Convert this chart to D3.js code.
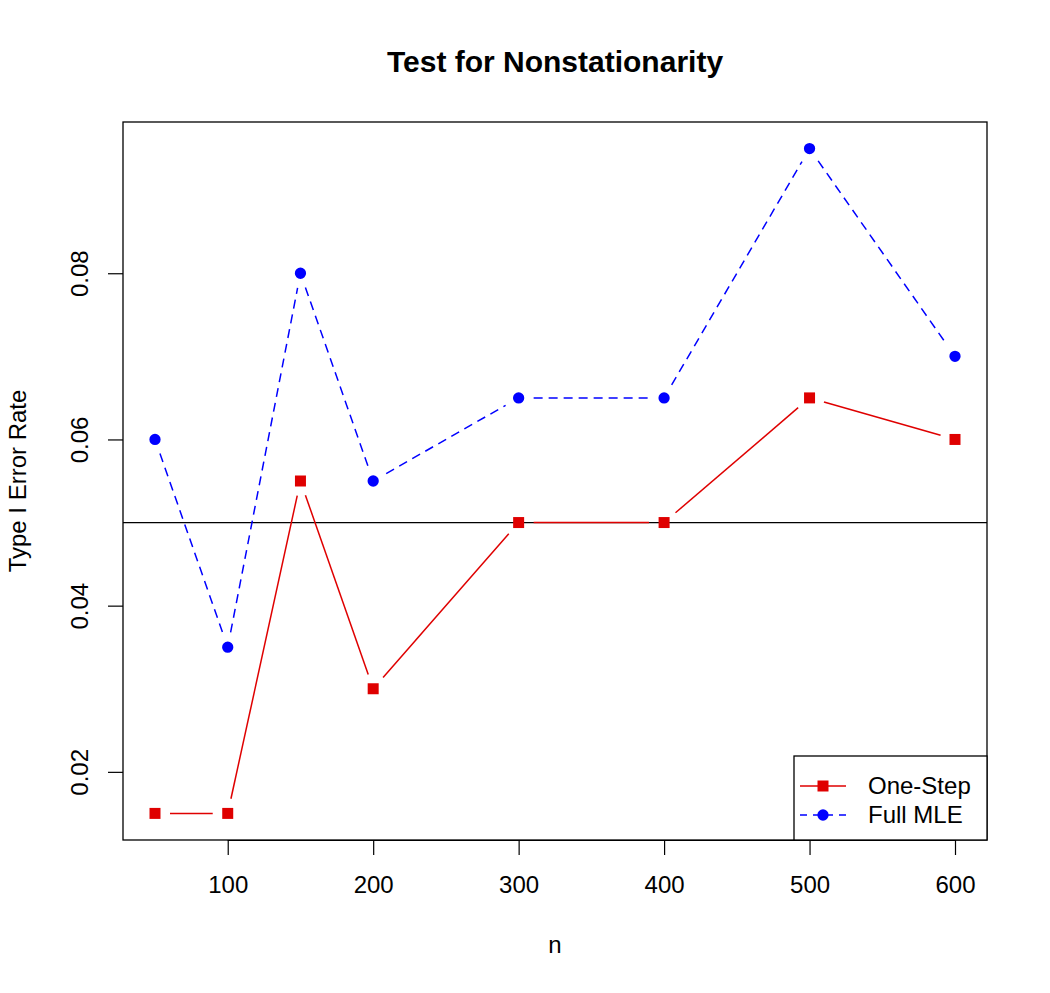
<!DOCTYPE html>
<html>
<head>
<meta charset="utf-8">
<script src="https://cdn.jsdelivr.net/npm/d3@7"></script>
<style>
  body { margin: 0; background: #fff; }
  svg text { font-family: "Liberation Sans", Arial, sans-serif; fill: #000; }
</style>
</head>
<body>
<div id="chart"></div>
<script>
// data
const nValues = [50, 100, 150, 200, 300, 400, 500, 600];
const oneStep = [0.015, 0.015, 0.055, 0.03, 0.05, 0.05, 0.065, 0.06];
const fullMLE = [0.06, 0.035, 0.08, 0.055, 0.065, 0.065, 0.095, 0.07];
const xTicks = [100, 200, 300, 400, 500, 600];
const yTicks = [0.02, 0.04, 0.06, 0.08];
const refLine = 0.05;
const seriesNames = ['One-Step', 'Full MLE'];

const width = 1050, height = 993;
const plot = { left: 123, right: 987, top: 122, bottom: 840 };
const red = '#df0000', blue = '#0000ff';
const font = '"Liberation Sans", Arial, sans-serif';

const svg = d3.select('#chart').append('svg')
  .attr('width', width)
  .attr('height', height);

// R style 4% padding on both axes
const pad = (lo, hi) => { const r = (hi - lo) * 0.04; return [lo - r, hi + r]; };
const allY = oneStep.concat(fullMLE);

const x = d3.scaleLinear()
  .domain(pad(d3.min(nValues), d3.max(nValues)))
  .range([plot.left, plot.right]);
const y = d3.scaleLinear()
  .domain(pad(d3.min(allY), d3.max(allY)))
  .range([plot.bottom, plot.top]);

// title
svg.append('text')
  .attr('x', (plot.left + plot.right) / 2)
  .attr('y', 72)
  .attr('text-anchor', 'middle')
  .style('font-size', '30px')
  .style('font-weight', 'bold')
  .text('Test for Nonstationarity');

// axes
const xAxis = svg.append('g')
  .attr('transform', `translate(0,${plot.bottom})`)
  .call(d3.axisBottom(x).tickValues(xTicks).tickSize(15).tickPadding(21).tickFormat(d3.format('d')));
xAxis.select('.domain').attr('d', `M${x(xTicks[0])},0.5H${x(xTicks[xTicks.length - 1])}`);

const yAxis = svg.append('g')
  .attr('transform', `translate(${plot.left},0)`)
  .call(d3.axisLeft(y).tickValues(yTicks).tickSize(15).tickFormat(d3.format('.2f')));
yAxis.select('.domain').remove();
yAxis.selectAll('.tick text')
  .attr('x', 0).attr('dy', 0)
  .attr('transform', 'translate(-35,0) rotate(-90)')
  .attr('text-anchor', 'middle');

[xAxis, yAxis].forEach(g => {
  g.selectAll('text').style('font-size', '24px').style('font-family', font);
  g.selectAll('line, path').attr('stroke', '#000').attr('stroke-width', 1.2);
});

// axis titles
svg.append('text')
  .attr('x', (plot.left + plot.right) / 2)
  .attr('y', 953)
  .attr('text-anchor', 'middle')
  .style('font-size', '24px')
  .text('n');

svg.append('text')
  .attr('transform', `translate(26,${(plot.top + plot.bottom) / 2}) rotate(-90)`)
  .attr('text-anchor', 'middle')
  .style('font-size', '24px')
  .text('Type I Error Rate');

// plot box
svg.append('rect')
  .attr('x', plot.left).attr('y', plot.top)
  .attr('width', plot.right - plot.left)
  .attr('height', plot.bottom - plot.top)
  .attr('fill', 'none')
  .attr('stroke', '#000')
  .attr('stroke-width', 1.3);

// reference line at 0.05
svg.append('line')
  .attr('x1', plot.left).attr('x2', plot.right)
  .attr('y1', y(refLine)).attr('y2', y(refLine))
  .attr('stroke', '#000').attr('stroke-width', 1.3);

// type = "b": line segments with gaps around points
const gap = 15;
function drawSeries(values, color, dash, shape) {
  const pts = nValues.map((n, i) => [x(n), y(values[i])]);
  const g = svg.append('g');
  for (let i = 0; i < pts.length - 1; i++) {
    const [x0, y0] = pts[i], [x1, y1] = pts[i + 1];
    const len = Math.hypot(x1 - x0, y1 - y0);
    if (len <= 2 * gap) continue;
    const ux = (x1 - x0) / len, uy = (y1 - y0) / len;
    g.append('line')
      .attr('x1', x0 + ux * gap).attr('y1', y0 + uy * gap)
      .attr('x2', x1 - ux * gap).attr('y2', y1 - uy * gap)
      .attr('stroke', color).attr('stroke-width', 1.5)
      .attr('stroke-dasharray', dash);
  }
  g.selectAll('path.pt')
    .data(pts)
    .join('path')
    .attr('class', 'pt')
    .attr('transform', d => `translate(${d[0]},${d[1]})`)
    .attr('d', d3.symbol().type(shape).size(shape === d3.symbolSquare ? 121 : 100))
    .attr('fill', color);
}

drawSeries(oneStep, red, null, d3.symbolSquare);
drawSeries(fullMLE, blue, '9,6', d3.symbolCircle);

// legend
const legend = { x: 794, y: 756, w: plot.right - 794, h: plot.bottom - 756 };
svg.append('rect')
  .attr('x', legend.x).attr('y', legend.y)
  .attr('width', legend.w).attr('height', legend.h)
  .attr('fill', '#fff').attr('stroke', '#000').attr('stroke-width', 1.3);

const legendItems = [
  { name: seriesNames[0], color: red, dash: null, shape: d3.symbolSquare },
  { name: seriesNames[1], color: blue, dash: '7,6', shape: d3.symbolCircle }
];
legendItems.forEach((item, i) => {
  const ly = 786 + i * 29;
  svg.append('line')
    .attr('x1', 800).attr('x2', 846)
    .attr('y1', ly).attr('y2', ly)
    .attr('stroke', item.color).attr('stroke-width', 1.5)
    .attr('stroke-dasharray', item.dash);
  svg.append('path')
    .attr('transform', `translate(823,${ly})`)
    .attr('d', d3.symbol().type(item.shape).size(item.shape === d3.symbolSquare ? 121 : 100))
    .attr('fill', item.color);
  svg.append('text')
    .attr('x', 868).attr('y', ly)
    .attr('dy', '0.35em')
    .style('font-size', '24px')
    .text(item.name);
});
</script>
</body>
</html>
